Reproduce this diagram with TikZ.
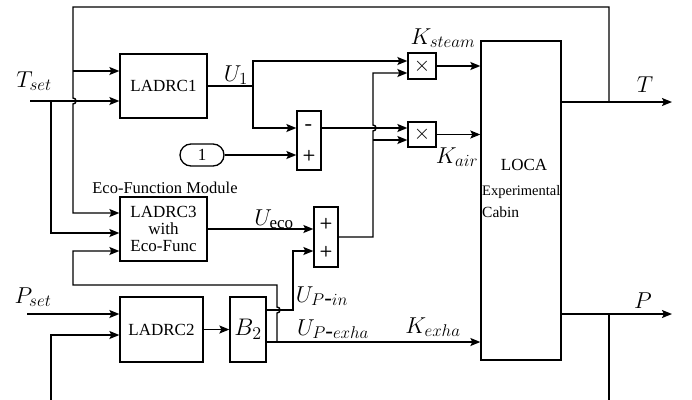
\documentclass[tikz,border=0pt]{standalone}
\usepackage{fontspec}
\setmainfont{Liberation Serif}
\usetikzlibrary{arrows.meta}
\DeclareFontShape{OML}{cmm}{m}{it}{<-7> cmmi5 <7-10> cmmi7 <10-12> cmmi10 <12-> cmmi12}{}
\DeclareFontShape{OMS}{cmsy}{m}{n}{<-7> cmsy5 <7-10> cmsy7 <10-> cmsy10}{}
\DeclareFontShape{OT1}{cmr}{m}{n}{<-7> cmr5 <7-10> cmr7 <10-12> cmr10 <12-> cmr12}{}
\DeclareMathSizes{23}{23}{17}{13}
\DeclareMathSizes{24}{24}{18}{13}
\begin{document}
\begin{tikzpicture}[x=1pt,y=-1pt, line width=1.4pt,
  blk/.style={draw, line width=1.3pt, inner sep=0pt, font=\fontsize{17}{18}\selectfont},
  arr/.style={-{Stealth[length=10pt,width=8pt,inset=2pt]}},
  lbl/.style={font=\fontsize{23}{26}\selectfont, inner sep=0pt, anchor=base},
  sgn/.style={font=\sffamily\bfseries\fontsize{15}{15}\selectfont, inner sep=0pt},
  txt/.style={inner sep=0pt}]
\useasboundingbox (0,0) rectangle (692,399);

% blocks
\node[blk, minimum width=87pt, minimum height=64pt] (ladrc1) at (163.5,86) {LADRC1};
\node[blk, minimum width=24pt, minimum height=59pt] (sum1) at (309,140.5) {};
\node[sgn, font=\sffamily\bfseries\fontsize{22}{22}\selectfont] (s1m) at (309,128) {-};
\node[sgn] (s1p) at (309,156) {+};
\node[blk, rounded corners=11pt, minimum width=44pt, minimum height=22pt] (one) at (202,155) {1};
\node[blk, align=center, minimum width=87pt, minimum height=64pt] (ladrc3) at (163.5,229) {LADRC3\\[-1pt]with\\[-1pt]Eco-Func};
\node[txt, font=\fontsize{16.5}{18}\selectfont] (ecomod) at (165,188) {Eco-Function Module};
\node[blk, minimum width=24pt, minimum height=60pt] (sum2) at (326,237) {};
\node[sgn] (s2a) at (326,224) {+};
\node[sgn] (s2b) at (326,252) {+};
\node[blk, minimum width=28pt, minimum height=26pt, font=\fontsize{21}{21}\selectfont] (mult1) at (422,66) {$\times$};
\node[blk, minimum width=28pt, minimum height=25pt, font=\fontsize{21}{21}\selectfont] (mult2) at (422,134.5) {$\times$};
\node[blk, minimum width=80pt, minimum height=319pt] (loca) at (521,200.5) {};
\node[txt, font=\fontsize{17}{18}\selectfont] (locat) at (524,165) {LOCA};
\node[txt, anchor=west, font=\fontsize{14.5}{16}\selectfont] (expt) at (481.5,192) {Experimental};
\node[txt, anchor=west, font=\fontsize{15.5}{16}\selectfont] (cabt) at (481.5,212) {Cabin};
\node[blk, minimum width=83pt, minimum height=65pt] (ladrc2) at (161.5,329.5) {LADRC2};
\node[blk, minimum width=36pt, minimum height=65pt, font=\fontsize{24}{24}\selectfont] (b2) at (248,329.5) {$B_2$};

% coordinates
\coordinate (tsetS) at (30,101);
\coordinate (jT) at (51,101);
\coordinate (tOut) at (672,102);
\coordinate (jTo) at (609,102);
\coordinate (pOut) at (672,314);
\coordinate (jPo) at (609,314);
\coordinate (u1j) at (253,86);
\coordinate (exj) at (277,342);
\coordinate (psetS) at (27,314);

% connectors
\draw[arr] (jTo) -- (609,7) -- (73,7) -- (73,98) .. controls (77,98) and (77,104) .. (73,104) -- (73,213) -- ([yshift=16pt]ladrc3.west);
\draw[arr] (73,71) -- ([yshift=15pt]ladrc1.west);
\draw[arr] (tsetS) -- ([yshift=-15pt]ladrc1.west);
\draw[arr] (jT) -- (51,233) -- ([yshift=-4pt]ladrc3.west);
\draw (ladrc1.east) -- (u1j);
\draw[arr] (u1j) |- ([yshift=5pt]mult1.west);
\draw[arr] (u1j) |- ([yshift=12.5pt]sum1.west);
\draw[arr] (one.east) -- (sum1.west |- one.east);
\draw[arr] ([yshift=12.5pt]sum1.east) -- ([yshift=6.5pt]mult2.west);
\draw[arr] (sum2.east) -- (373,237) -- (373,131) .. controls (377,131) and (377,125) .. (373,125) -- (373,73) -- ([yshift=-7pt]mult1.west);
\draw[arr] (373,140) -- ([yshift=-5.5pt]mult2.west);
\draw[arr] (mult1.east) -- (loca.west |- mult1.east);
\draw[arr] (mult2.east) -- (loca.west |- mult2.east);
\draw[arr] (ladrc3.east) -- (sum2.west |- ladrc3.east);
\draw[arr] (ladrc2) -- (b2);
\draw[arr] ([yshift=19.5pt]b2.east) -- (293,310) -- (293,251) -- ([yshift=-14pt]sum2.west);
\draw[arr] ([yshift=-12.5pt]b2.east) -- (loca.west |- exj);
\draw[arr] (exj) -- (277,313) .. controls (281,313) and (281,307) .. (277,307) -- (277,285) -- (73,285) -- (73,251) -- ([yshift=-22pt]ladrc3.west);
\draw[arr] (psetS) -- ([yshift=15.5pt]ladrc2.west);
\draw[arr] (51,402) -- (51,335) -- ([yshift=-5.5pt]ladrc2.west);
\draw[arr] (loca.east |- jTo) -- (tOut);
\draw[arr] (loca.east |- jPo) -- (pOut);
\draw (jPo) -- (609,402);

% labels
\node[lbl] (ltset) at (34,87) {$T_{set}$};
\node[lbl] (lpset) at (33,303) {$P_{set}$};
\node[lbl] (lu1) at (236,81) {$U_1$};
\node[lbl] (lsteam) at (443,44) {$K_{steam}$};
\node[lbl] (lair) at (457,163) {$K_{air}$};
\node[lbl] (lT) at (645,92) {$T$};
\node[lbl] (lP) at (643,308) {$P$};
\node[lbl] (lueco) at (274,225) {$U_{\mathrm{eco}}$};
\node[lbl] (lupin) at (322,302) {$U_{P\mbox{-}in}$};
\node[lbl] (lupex) at (333,335) {$U_{P\mbox{-}exha}$};
\node[lbl] (lkex) at (433,333) {$K_{exha}$};
\end{tikzpicture}
\end{document}
